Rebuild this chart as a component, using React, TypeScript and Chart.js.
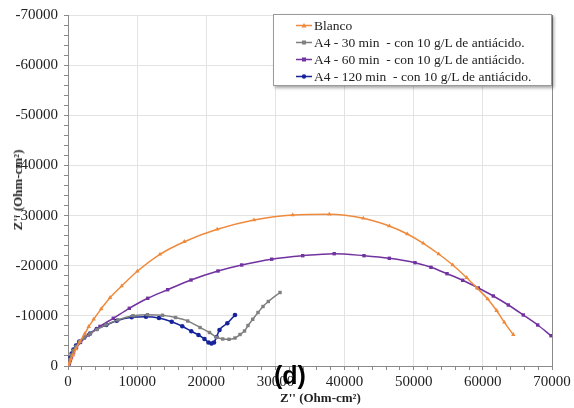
import React, { useEffect, useRef } from "react";
import { Chart, registerables } from "chart.js";

Chart.register(...registerables);

// Z' (x) and Z'' (y, negative) values in Ohm-cm²
const blancoX = [72, 217, 434, 723, 1157, 1736, 2415, 2994, 3717, 4800, 6074, 7767, 10023, 13306, 16820, 21593, 26901, 32498, 37792, 42709, 46470, 49073, 51387, 53615, 55640, 57664, 59154, 60701, 62003, 63102, 64404];
const blancoY = [-200, -700, -1400, -2200, -3400, -4900, -6400, -7838, -9314, -11400, -13622, -15955, -18887, -22277, -24791, -27264, -29118, -30115, -30255, -29457, -27922, -26326, -24471, -22337, -20143, -17610, -15556, -13362, -11029, -8715, -6242];

const a30X = [43, 145, 289, 506, 795, 1157, 1663, 2314, 3182, 4194, 5496, 7231, 9401, 11498, 13667, 15548, 17312, 19091, 20465, 21507, 22374, 23286, 24153, 24876, 25527, 26033, 26713, 27480, 28203, 28970, 30662];
const a30Y = [-150, -600, -1300, -2200, -3100, -3900, -4800, -5600, -6400, -7300, -8200, -9200, -10030, -10231, -10112, -9673, -8975, -7678, -6681, -5724, -5385, -5325, -5584, -6282, -6980, -8077, -9314, -10670, -11867, -12864, -14659];

const a60X = [43, 145, 289, 506, 795, 1229, 1808, 2936, 4628, 6552, 8866, 11527, 14420, 17789, 21694, 25122, 29461, 33945, 38500, 42811, 46470, 50186, 52500, 54815, 57085, 59342, 61511, 63681, 65850, 67933, 69857];
const a60Y = [-100, -500, -1050, -1800, -2650, -3700, -4700, -6183, -7900, -9513, -11508, -13502, -15217, -17150, -18947, -20143, -21300, -21998, -22397, -21998, -21480, -20602, -19685, -18408, -17092, -15556, -13961, -12166, -10171, -8177, -6043];

const a120X = [29, 72, 188, 333, 535, 795, 1157, 1634, 2357, 3182, 4151, 5539, 7043, 9213, 11281, 13161, 14998, 16531, 17833, 18874, 19742, 20321, 20755, 21116, 21478, 21912, 23040, 24153];
const a120Y = [0, -399, -997, -1695, -2493, -3291, -4089, -4886, -5684, -6482, -7379, -8177, -9035, -9713, -9832, -9573, -8835, -7918, -6921, -6183, -5385, -4687, -4487, -4687, -5784, -7180, -8516, -10171];

const seriesNames = [
  "Blanco",
  "A4 - 30 min  - con 10 g/L de antiácido.",
  "A4 - 60 min  - con 10 g/L de antiácido.",
  "A4 - 120 min  - con 10 g/L de antiácido.",
];
const seriesColors = ["#ef8a3c", "#7f7f7f", "#7232a0", "#17239a"];
const seriesMarkers = ["triangle", "rect", "rect", "circle"];

const xMin = 0;
const xMax = 70000;
const yMin = -70000;
const yMax = 0;
const tickStep = 2000;
const labelStep = 10000;

const axisTitle = "Z'' (Ohm-cm²)";
const panelLabel = "(d)";

function toPoints(xs: number[], ys: number[]) {
  return xs.map((x, i) => ({ x, y: ys[i] }));
}

export default function App() {
  const ref = useRef<HTMLCanvasElement | null>(null);

  useEffect(() => {
    if (!ref.current) return;
    const allX = [blancoX, a30X, a60X, a120X];
    const allY = [blancoY, a30Y, a60Y, a120Y];
    const datasets = allX.map((xs, i) => ({
      label: seriesNames[i],
      data: toPoints(xs, allY[i]),
      borderColor: seriesColors[i],
      backgroundColor: seriesColors[i],
      pointStyle: seriesMarkers[i] as any,
      pointRadius: i === 0 ? 2.6 : i === 3 ? 2.3 : 2.4,
      pointBorderWidth: 0,
      borderWidth: 1.5,
      showLine: true,
      cubicInterpolationMode: "monotone" as const,
      fill: false,
    }));
    const gridCol = (v: number, edge: number) =>
      v === edge ? "#8a8a8a" : v % labelStep === 0 ? "#e3e3e3" : "rgba(0,0,0,0)";
    const chart = new Chart(ref.current, {
      type: "scatter",
      data: { datasets },
      options: {
        animation: false,
        responsive: false,
        maintainAspectRatio: false,
        layout: { padding: { left: 0, right: 22, top: 15, bottom: 0 } },
        plugins: { legend: { display: false }, tooltip: { enabled: false } },
        scales: {
          x: {
            type: "linear",
            min: xMin,
            max: xMax,
            afterFit: (s: any) => { s.height = 42; },
            border: { color: "#8a8a8a", width: 1 },
            grid: {
              color: (c: any) => gridCol(c.tick.value, xMax),
              tickColor: "#8a8a8a",
              tickLength: 4,
            },
            ticks: {
              stepSize: tickStep,
              autoSkip: false,
              maxRotation: 0,
              padding: 3,
              color: "#222",
              font: { family: "'Liberation Serif', serif", size: 15 },
              callback: (v: any) => (Number(v) % labelStep === 0 ? String(v) : ""),
            },
          },
          y: {
            type: "linear",
            min: yMin,
            max: yMax,
            reverse: true,
            afterFit: (s: any) => { s.width = 68; },
            border: { color: "#8a8a8a", width: 1 },
            grid: {
              color: (c: any) => gridCol(c.tick.value, 99999),
              tickColor: "#8a8a8a",
              tickLength: 4,
            },
            ticks: {
              stepSize: tickStep,
              autoSkip: false,
              padding: 6,
              color: "#222",
              font: { family: "'Liberation Serif', serif", size: 15 },
              callback: (v: any) => (Number(v) % labelStep === 0 ? String(v) : ""),
            },
          },
        },
      },
    });
    return () => chart.destroy();
  }, []);

  const serif = "'Liberation Serif', 'Times New Roman', serif";

  return (
    <div style={{ position: "fixed", left: 0, top: 0, width: 574, height: 408, background: "#fff", overflow: "hidden" }}>
      <canvas ref={ref} width={574} height={408} style={{ position: "absolute", left: 0, top: 0, width: 574, height: 408 }} />
      <div
        style={{
          position: "absolute",
          left: 273,
          top: 14,
          width: 279,
          height: 72,
          border: "1px solid #9a9a9a",
          background: "#fff",
          boxShadow: "2px 2px 3px rgba(0,0,0,0.35)",
          boxSizing: "border-box",
          paddingTop: 2,
        }}
      >
        {seriesNames.map((n, i) => (
          <div key={i} style={{ display: "flex", alignItems: "center", height: 17, fontFamily: serif, fontSize: 13.5, color: "#222", whiteSpace: "pre" }}>
            <svg width={40} height={17} style={{ flex: "none" }}>
              <line x1={22} y1={8.5} x2={38} y2={8.5} stroke={seriesColors[i]} strokeWidth={1.5} />
              {seriesMarkers[i] === "circle" ? (
                <circle cx={30} cy={8.5} r={2.2} fill={seriesColors[i]} />
              ) : seriesMarkers[i] === "rect" ? (
                <rect x={28} y={6.5} width={4} height={4} fill={seriesColors[i]} />
              ) : (
                <polygon points="30,6 32.5,10.5 27.5,10.5" fill={seriesColors[i]} />
              )}
            </svg>
            <span>{n}</span>
          </div>
        ))}
      </div>
      <div style={{ position: "absolute", left: 280, top: 390, fontFamily: serif, fontWeight: "bold", fontSize: 13, color: "#222", whiteSpace: "nowrap" }}>
        {axisTitle}
      </div>
      <div
        style={{
          position: "absolute",
          left: 18,
          top: 190,
          transform: "translate(-50%, -50%) rotate(-90deg)",
          fontFamily: serif,
          fontWeight: "bold",
          fontSize: 13,
          color: "#222",
          whiteSpace: "nowrap",
        }}
      >
        {axisTitle}
      </div>
      <div style={{ position: "absolute", left: 274, top: 360, fontFamily: "'Liberation Sans', Arial, sans-serif", fontWeight: "bold", fontSize: 25, color: "#000", lineHeight: "30px" }}>
        {panelLabel}
      </div>
    </div>
  );
}
